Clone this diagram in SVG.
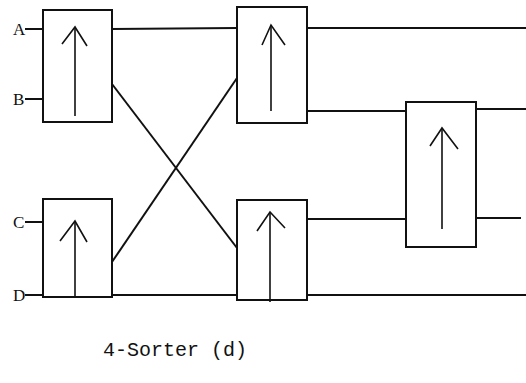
<svg xmlns="http://www.w3.org/2000/svg" width="526" height="383" viewBox="0 0 526 383">
<style>
.box{fill:#fff;stroke:#111;stroke-width:2}
.wire{fill:none;stroke:#111;stroke-width:2}
.arr{fill:none;stroke:#111;stroke-width:1.6;stroke-linejoin:miter}
.lbl{font-family:"Liberation Mono","DejaVu Sans Mono",monospace;font-size:20px;fill:#111}
.io{font-family:"Liberation Serif",serif;font-size:17px;fill:#111}
</style>
<rect width="526" height="383" fill="#fff"/>
<g id="connectors">
<line class="wire" x1="25" y1="29" x2="43" y2="29"/>
<line class="wire" x1="25" y1="99" x2="43" y2="99"/>
<line class="wire" x1="25" y1="222" x2="43" y2="222"/>
<line class="wire" x1="25" y1="295" x2="43" y2="295"/>
<line class="wire" x1="112" y1="29" x2="237" y2="28"/>
<line class="wire" x1="112" y1="84" x2="237" y2="248"/>
<line class="wire" x1="112" y1="262" x2="237" y2="78"/>
<line class="wire" x1="112" y1="295" x2="237" y2="295"/>
<line class="wire" x1="307" y1="28" x2="526" y2="28"/>
<line class="wire" x1="307" y1="111" x2="406" y2="111"/>
<line class="wire" x1="307" y1="219" x2="406" y2="219"/>
<line class="wire" x1="307" y1="295" x2="526" y2="295"/>
<line class="wire" x1="476" y1="109" x2="526" y2="109"/>
<line class="wire" x1="476" y1="218" x2="521" y2="218"/>
</g>
<g id="node-1">
<rect class="box" x="43" y="10" width="69" height="112"/>
<line class="arr" x1="75" y1="27" x2="75" y2="116"/>
<polyline class="arr" points="62,44 75,27 87,46"/>
</g>
<g id="node-2">
<rect class="box" x="43" y="199" width="69" height="98"/>
<line class="arr" x1="75" y1="221" x2="75" y2="296"/>
<polyline class="arr" points="60,241 75,221 87,242"/>
</g>
<g id="node-3">
<rect class="box" x="237" y="7" width="70" height="116"/>
<line class="arr" x1="271" y1="25" x2="271" y2="111"/>
<polyline class="arr" points="262,45 271,25 285,45"/>
</g>
<g id="node-4">
<rect class="box" x="237" y="200" width="70" height="100"/>
<line class="arr" x1="270" y1="212" x2="270" y2="302"/>
<polyline class="arr" points="257,231 270,212 285,228"/>
</g>
<g id="node-5">
<rect class="box" x="406" y="102" width="70" height="145"/>
<line class="arr" x1="442" y1="128" x2="442" y2="229"/>
<polyline class="arr" points="430,146 442,128 458,149"/>
</g>
<g id="labels">
<text class="io" x="13" y="35">A</text>
<text class="io" x="13" y="105">B</text>
<text class="io" x="13" y="228">C</text>
<text class="io" x="13" y="301">D</text>
<text class="lbl" x="103" y="356">4-Sorter (d)</text>
</g>
</svg>
